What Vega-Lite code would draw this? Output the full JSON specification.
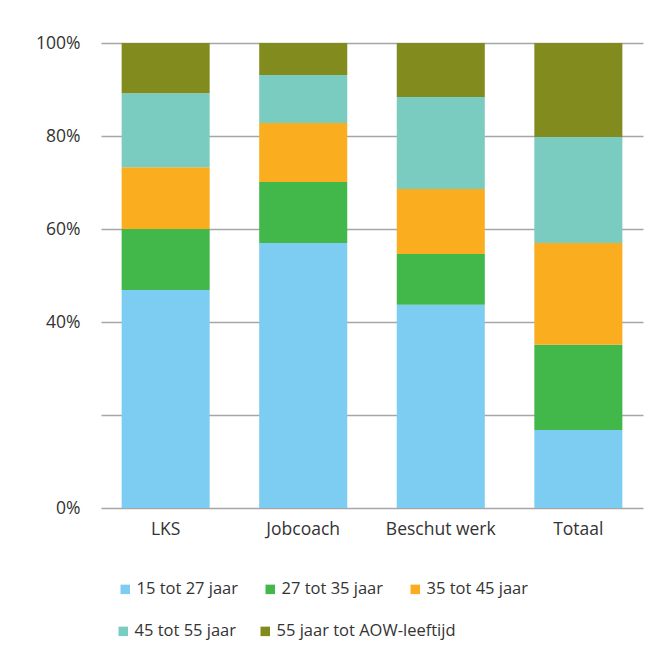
{
  "$schema": "https://vega.github.io/schema/vega-lite/v6.json",
  "autosize": {"type": "none"},
  "padding": {"left": 101, "top": 43, "right": 11, "bottom": 144},
  "width": 542,
  "height": 465,
  "background": "white",
  "config": {
    "view": {"stroke": null},
    "font": "Open Sans",
    "axis": {"labelFont": "Open Sans", "labelColor": "#333333", "labelFontSize": 17.5},
    "legend": {"labelFont": "Open Sans", "labelColor": "#333333", "labelFontSize": 16.5, "labelLimit": 400}
  },
  "data": {
    "values": [
      {"cat": "LKS", "groep": "15 tot 27 jaar", "k": 1, "v": 46.9},
      {"cat": "LKS", "groep": "27 tot 35 jaar", "k": 2, "v": 13.1},
      {"cat": "LKS", "groep": "35 tot 45 jaar", "k": 3, "v": 13.3},
      {"cat": "LKS", "groep": "45 tot 55 jaar", "k": 4, "v": 15.9},
      {"cat": "LKS", "groep": "55 jaar tot AOW-leeftijd", "k": 5, "v": 10.8},
      {"cat": "Jobcoach", "groep": "15 tot 27 jaar", "k": 1, "v": 57.0},
      {"cat": "Jobcoach", "groep": "27 tot 35 jaar", "k": 2, "v": 13.1},
      {"cat": "Jobcoach", "groep": "35 tot 45 jaar", "k": 3, "v": 12.7},
      {"cat": "Jobcoach", "groep": "45 tot 55 jaar", "k": 4, "v": 10.3},
      {"cat": "Jobcoach", "groep": "55 jaar tot AOW-leeftijd", "k": 5, "v": 6.9},
      {"cat": "Beschut werk", "groep": "15 tot 27 jaar", "k": 1, "v": 43.7},
      {"cat": "Beschut werk", "groep": "27 tot 35 jaar", "k": 2, "v": 10.9},
      {"cat": "Beschut werk", "groep": "35 tot 45 jaar", "k": 3, "v": 14.0},
      {"cat": "Beschut werk", "groep": "45 tot 55 jaar", "k": 4, "v": 19.8},
      {"cat": "Beschut werk", "groep": "55 jaar tot AOW-leeftijd", "k": 5, "v": 11.6},
      {"cat": "Totaal", "groep": "15 tot 27 jaar", "k": 1, "v": 16.8},
      {"cat": "Totaal", "groep": "27 tot 35 jaar", "k": 2, "v": 18.3},
      {"cat": "Totaal", "groep": "35 tot 45 jaar", "k": 3, "v": 21.9},
      {"cat": "Totaal", "groep": "45 tot 55 jaar", "k": 4, "v": 22.8},
      {"cat": "Totaal", "groep": "55 jaar tot AOW-leeftijd", "k": 5, "v": 20.2}
    ]
  },
  "transform": [
    {"stack": "v", "groupby": ["cat"], "sort": [{"field": "k", "order": "ascending"}], "offset": "normalize", "as": ["y0", "y1"]}
  ],
  "encoding": {
    "x": {
      "field": "cat",
      "type": "nominal",
      "sort": ["LKS", "Jobcoach", "Beschut werk", "Totaal"],
      "scale": {"paddingInner": 0.36, "paddingOuter": 0.15},
      "axis": {"title": null, "labelAngle": 0, "domain": false, "ticks": false, "labelPadding": 12}
    },
    "y": {
      "field": "y0",
      "type": "quantitative",
      "scale": {"domain": [0, 1]},
      "axis": {
        "title": null,
        "values": [0, 0.2, 0.4, 0.6, 0.8, 1],
        "format": ".0%",
        "labelExpr": "abs(datum.value - 0.2) < 0.001 ? '' : datum.label",
        "domain": false,
        "ticks": false,
        "labelPadding": 21,
        "gridColor": "#a6a6a6",
        "gridWidth": 1.5
      }
    },
    "y2": {"field": "y1"}
  },
  "layer": [
    {
      "transform": [{"filter": "datum.k <= 3"}],
      "mark": {"type": "bar"},
      "encoding": {
        "color": {
          "field": "groep",
          "type": "nominal",
          "scale": {
            "domain": ["15 tot 27 jaar", "27 tot 35 jaar", "35 tot 45 jaar"],
            "range": ["#7DCDF2", "#42B74A", "#FAAD1F"]
          },
          "legend": {
            "title": null,
            "orient": "none",
            "legendX": 16,
            "legendY": 538,
            "direction": "horizontal",
            "columns": 3,
            "symbolType": "square",
            "symbolSize": 90,
            "symbolStrokeWidth": 0,
            "labelOffset": 3,
            "columnPadding": 23,
            "padding": 0
          }
        }
      }
    },
    {
      "transform": [{"filter": "datum.k >= 4"}],
      "mark": {"type": "bar"},
      "encoding": {
        "fill": {
          "field": "groep",
          "type": "nominal",
          "scale": {
            "domain": ["45 tot 55 jaar", "55 jaar tot AOW-leeftijd"],
            "range": ["#7ACCC0", "#828C1E"]
          },
          "legend": {
            "title": null,
            "orient": "none",
            "legendX": 14,
            "legendY": 580,
            "direction": "horizontal",
            "columns": 2,
            "symbolType": "square",
            "symbolSize": 90,
            "symbolStrokeWidth": 0,
            "labelOffset": 3,
            "columnPadding": 20,
            "padding": 0
          }
        }
      }
    }
  ]
}
